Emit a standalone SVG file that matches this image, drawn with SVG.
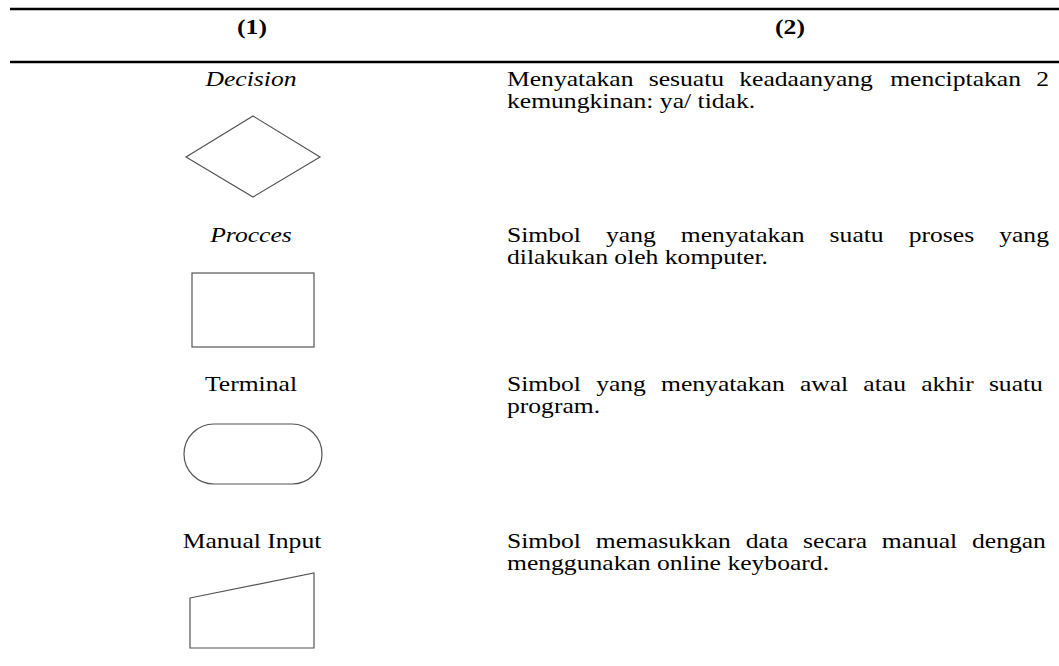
<svg xmlns="http://www.w3.org/2000/svg" width="1059" height="666" viewBox="0 0 1059 666">
  <style>
    .rule { stroke: #000; stroke-width: 2.5; }
    .serif { font-family: "Liberation Serif", "Times New Roman", serif; font-size: 21px; fill: #000; }
    .head { font-weight: bold; text-anchor: middle; }
    .lbl { text-anchor: middle; }
    .it { font-style: italic; }
    .shape { fill: #fff; stroke: #555; stroke-width: 1.2; }
  </style>
  <rect width="1059" height="666" fill="#fff"/>

  <!-- table rules -->
  <line class="rule" x1="10" y1="9" x2="1059" y2="9"/>
  <line class="rule" x1="10" y1="62" x2="1059" y2="62"/>

  <!-- column headings (type is set 1.22x wide throughout) -->
  <text class="serif head" x="252" y="34" transform="matrix(1.22,0,0,1,-55.44,0)">(1)</text>
  <text class="serif head" x="790" y="34" transform="matrix(1.22,0,0,1,-173.8,0)">(2)</text>

  <!-- symbols and their names -->
  <g id="decision">
    <text class="serif lbl it" x="251" y="86.5" transform="matrix(1.22,0,0,1,-55.22,0)">Decision</text>
    <polygon class="shape" points="253,116 320,157 253,197 186,157"/>
  </g>

  <g id="process">
    <text class="serif lbl it" x="251" y="242" transform="matrix(1.22,0,0,1,-55.22,0)">Procces</text>
    <rect class="shape" x="192" y="273" width="122" height="74"/>
  </g>

  <g id="terminal">
    <text class="serif lbl" x="251" y="391" transform="matrix(1.22,0,0,1,-55.22,0)">Terminal</text>
    <rect class="shape" x="184" y="424" width="138" height="60" rx="30" ry="30"/>
  </g>

  <g id="manual-input">
    <text class="serif lbl" x="252" y="548" transform="matrix(1.22,0,0,1,-55.44,0)">Manual Input</text>
    <polygon class="shape" points="190,598 314,573 314,648 190,648"/>
  </g>

  <!-- descriptions: justified column, left edge at x=507 -->
  <g id="descriptions" transform="matrix(1.22,0,0,1,-111.54,0)">
    <g id="desc-decision">
      <text class="serif" y="86.5"><tspan x="507">Menyatakan</tspan><tspan x="623.19">sesuatu</tspan><tspan x="697.4">keadaanyang</tspan><tspan x="821.09">menciptakan</tspan><tspan x="940.79">2</tspan></text>
      <text class="serif" x="507" y="108.5">kemungkinan: ya/ tidak.</text>
    </g>
    <g id="desc-process">
      <text class="serif" y="242"><tspan x="507">Simbol</tspan><tspan x="588.18">yang</tspan><tspan x="649.49">menyatakan</tspan><tspan x="771.45">suatu</tspan><tspan x="836.27">proses</tspan><tspan x="910.42">yang</tspan></text>
      <text class="serif" x="507" y="264">dilakukan oleh komputer.</text>
    </g>
    <g id="desc-terminal">
      <text class="serif" y="391"><tspan x="507">Simbol</tspan><tspan x="580.06">yang</tspan><tspan x="633.25">menyatakan</tspan><tspan x="747.09">awal</tspan><tspan x="799.11">atau</tspan><tspan x="846.47">akhir</tspan><tspan x="902">suatu</tspan></text>
      <text class="serif" x="507" y="413">program.</text>
    </g>
    <g id="desc-manual-input">
      <text class="serif" y="548"><tspan x="507">Simbol</tspan><tspan x="579.76">memasukkan</tspan><tspan x="702.65">data</tspan><tspan x="749.71">secara</tspan><tspan x="814.24">manual</tspan><tspan x="888.13">dengan</tspan></text>
      <text class="serif" x="507" y="570">menggunakan online keyboard.</text>
    </g>
  </g>
</svg>
